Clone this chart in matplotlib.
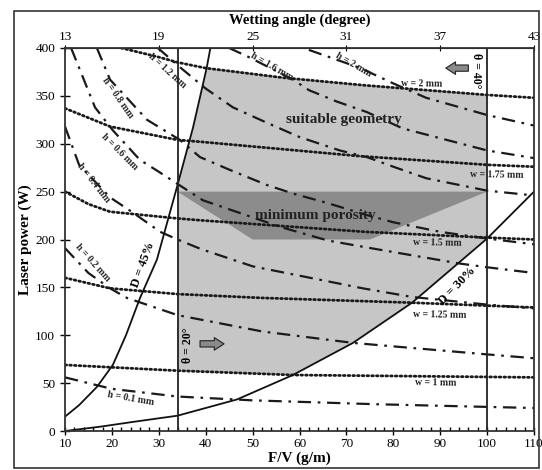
import numpy as np
import matplotlib
matplotlib.use("Agg")
import matplotlib.pyplot as plt
from matplotlib.patches import Polygon, Rectangle

plt.rcParams['font.family'] = ['Liberation Serif', 'DejaVu Serif']

#-------------------------------------------------#
#---------------Data----------#
#-------------------------------------------------#

# track width lines (dotted), x = F/V (g/m), y = laser power (W)
w_labels = ["w = 1 mm", "w = 1.25 mm", "w = 1.5 mm", "w = 1.75 mm", "w = 2 mm"]
w1_x = [10, 34, 58.6, 110]
w1_y = [69, 63, 58.5, 56]
w125_x = [10, 19.6, 34, 52, 84, 110]
w125_y = [160, 149, 143, 139, 134, 129]
w15_x = [10, 15, 19.6, 34, 39, 74, 100, 110]
w15_y = [250, 237, 229, 222, 220, 208, 202, 200]
w175_x = [10, 19.6, 34, 39, 73, 100, 110]
w175_y = [337, 318, 304, 302, 287, 278, 276]
w2_x = [22, 29.6, 34, 40, 56.5, 74, 87, 100, 110]
w2_y = [400, 391, 385, 379, 369, 361, 356, 351, 348]

# track height lines (dash-dot)
h_labels = ["h = 0.1 mm", "h = 0.2 mm", "h = 0.4 mm", "h = 0.6 mm",
            "h = 0.8 mm", "h = 1.2 mm", "h = 1.6 mm", "h = 2 mm"]
h01_x = [10, 20, 34, 50, 76, 110]
h01_y = [56, 44, 36, 32, 28, 24]
h02_x = [10, 15, 19.6, 23.2, 34, 52, 71.4, 100, 110]
h02_y = [191, 165, 149, 139, 121, 104, 92, 80, 76]
h04_x = [10, 13, 19.6, 24.5, 30.3, 34, 39, 50, 73.5, 84, 100, 110]
h04_y = [318, 278, 244, 228, 208, 200, 190, 172, 149, 140, 132, 128]
h06_x = [11.3, 16.4, 20.2, 26, 29.6, 34, 39.4, 56, 66, 74, 94, 100, 110]
h06_y = [400, 338, 314, 283, 272, 258, 241, 213, 199, 192, 175, 171, 165]
h08_x = [16.8, 19.6, 27.5, 34.5, 38.8, 45, 53, 58.6, 66, 74, 80, 90, 100, 110]
h08_y = [400, 367, 325, 304, 286, 273, 257, 248, 238, 226, 218, 208, 201, 195]
h12_x = [29.8, 34.5, 39.9, 45.8, 53, 60, 68.6, 74.4, 80, 87, 100, 110]
h12_y = [400, 380, 358, 338, 322, 307, 293, 286, 276, 264, 251, 246]
h16_x = [45, 49.4, 58.6, 62, 68, 74.4, 82, 100, 110]
h16_y = [400, 390, 367, 356, 344, 333, 316, 293, 285]
h2_x = [62, 73, 80, 87, 100, 110]
h2_y = [398, 379, 363, 348, 330, 319]

# dilution curves (solid)
d45_x = [10, 13, 16.8, 20.2, 23, 26, 29.6, 34, 37.3, 40.2, 41]
d45_y = [15, 27, 46, 69, 100, 139, 179, 257, 317, 379, 400]
d30_x = [10, 17.5, 24.5, 34, 46.7, 58.6, 71.4, 84, 100, 110]
d30_y = [0, 4.5, 9.5, 16, 33, 58.5, 92, 134, 201, 250]

# wetting angle limits (F/V where theta = 20 and 40 degrees)
theta_lim_x = [34, 100]

# shaded regions
suitable_x = [34, 34, 37.3, 40.2, 56.5, 74, 87, 100, 100, 84, 71.4, 58.6, 34]
suitable_y = [63, 257, 317, 379, 369, 361, 356, 351, 201, 134, 92, 58.5, 63]
porosity_x = [34, 100, 75, 50]
porosity_y = [250, 250, 200, 200]

#-------------------------------------------------#
#---------------Plotting--------------------------#
#-------------------------------------------------#

fig = plt.figure(figsize=(5.42, 4.70), dpi=100)
fig.patches.append(Rectangle((14/542, 0.004), 0.994 - 14/542, 1 - 11/470 - 0.004,
                             transform=fig.transFigure, fill=False, ec='#333', lw=1.2))
ax = fig.add_axes([65/542, 1 - 431/470, (534 - 65)/542, (431 - 48)/470])

ax.add_patch(Polygon(np.column_stack([suitable_x, suitable_y]), closed=True,
                     fc='#c6c6c6', ec='none', zorder=0))
ax.add_patch(Polygon(np.column_stack([porosity_x, porosity_y]), closed=True,
                     fc='#8c8c8c', ec='none', zorder=0.5))

dot = dict(color='#1a1a1a', lw=2.0, ls=(0, (0.6, 1.1)), dash_capstyle='round')
for xs, ys in [(w1_x, w1_y), (w125_x, w125_y), (w15_x, w15_y), (w175_x, w175_y), (w2_x, w2_y)]:
    ax.plot(xs, ys, **dot)

dashdot = dict(color='#1a1a1a', lw=1.6, ls=(0, (6, 3, 1.2, 3)))
for xs, ys in [(h01_x, h01_y), (h02_x, h02_y), (h04_x, h04_y), (h06_x, h06_y),
               (h08_x, h08_y), (h12_x, h12_y), (h16_x, h16_y), (h2_x, h2_y)]:
    ax.plot(xs, ys, **dashdot)

ax.plot(d45_x, d45_y, color='#111', lw=1.3)
ax.plot(d30_x, d30_y, color='#111', lw=1.3)
for xv in theta_lim_x:
    ax.axvline(xv, color='#222', lw=1.3)

ax.set_xlim(10, 110)
ax.set_ylim(0, 400)
ax.set_xticks(np.arange(10, 111, 10))
ax.set_xticks(np.arange(10, 111, 2), minor=True)
ax.set_yticks(np.arange(0, 401, 50))
ax.tick_params(axis='x', which='major', direction='inout', length=6, labelsize=9.5, width=1, pad=2)
ax.tick_params(axis='x', which='minor', direction='in', length=3, width=1)
ax.tick_params(axis='y', which='major', direction='inout', length=7, labelsize=9.5, width=1)
for s in ax.spines.values():
    s.set_linewidth(1.3)
    s.set_color('#333')

top = ax.secondary_xaxis('top', functions=(lambda x: 13 + (x - 10) * 0.3,
                                           lambda a: 10 + (a - 13) / 0.3))
top.set_xticks([13, 19, 25, 31, 37, 43])
top.tick_params(direction='inout', length=5, labelsize=9.5, pad=1)
top.set_xlabel('Wetting angle (degree)', fontsize=10.5, fontweight='bold', labelpad=5)

ax.set_xlabel('F/V (g/m)', fontsize=11, fontweight='bold', labelpad=1)
ax.set_ylabel('Laser power (W)', fontsize=11, fontweight='bold', labelpad=2)

# region labels
ax.text(69.5, 325, 'suitable geometry', fontsize=11, fontweight='bold', ha='center', va='center', color='#222')
ax.text(63.3, 225, 'minimum porosity', fontsize=11, fontweight='bold', ha='center', va='center', color='#222')
ax.text(26.6, 174, 'D = 45%', fontsize=9, fontweight='bold', rotation=70, ha='center', va='center')
ax.text(93.6, 152, 'D = 30%', fontsize=9, fontweight='bold', rotation=46, ha='center', va='center')
ax.text(36.2, 90, 'θ = 20°', fontsize=8.5, fontweight='bold', rotation=90, ha='center', va='center')
ax.text(97.6, 376, 'θ = 40°', fontsize=8.5, fontweight='bold', rotation=-90, ha='center', va='center')
arrow = dict(arrowstyle='simple,head_width=0.9,head_length=0.7,tail_width=0.45',
             fc='#8a8a8a', ec='#222', lw=0.8)
ax.annotate('', xy=(44.5, 91), xytext=(38.2, 91), arrowprops=arrow)
ax.annotate('', xy=(90.6, 379), xytext=(96.6, 379), arrowprops=arrow)

# line labels
small = dict(fontsize=7, fontweight='bold', ha='center', va='center', color='#222')
h_pos = [(24, 34, -10), (15.8, 176, -48), (16, 259, -52), (21.7, 291, -45),
         (21.3, 348, -55), (31.7, 376, -42), (54, 381, -30), (71.4, 383, -30)]
for lab, (x, y, r) in zip(h_labels, h_pos):
    ax.text(x, y, lab, rotation=r, **small)
w_pos = [(89, 50, -1), (90, 121, -1), (89.3, 196, -1), (102, 267, -1), (86, 363, -1)]
for lab, (x, y, r) in zip(w_labels, w_pos):
    ax.text(x, y, lab, rotation=r, **small)

plt.savefig('out.png', dpi=100)
